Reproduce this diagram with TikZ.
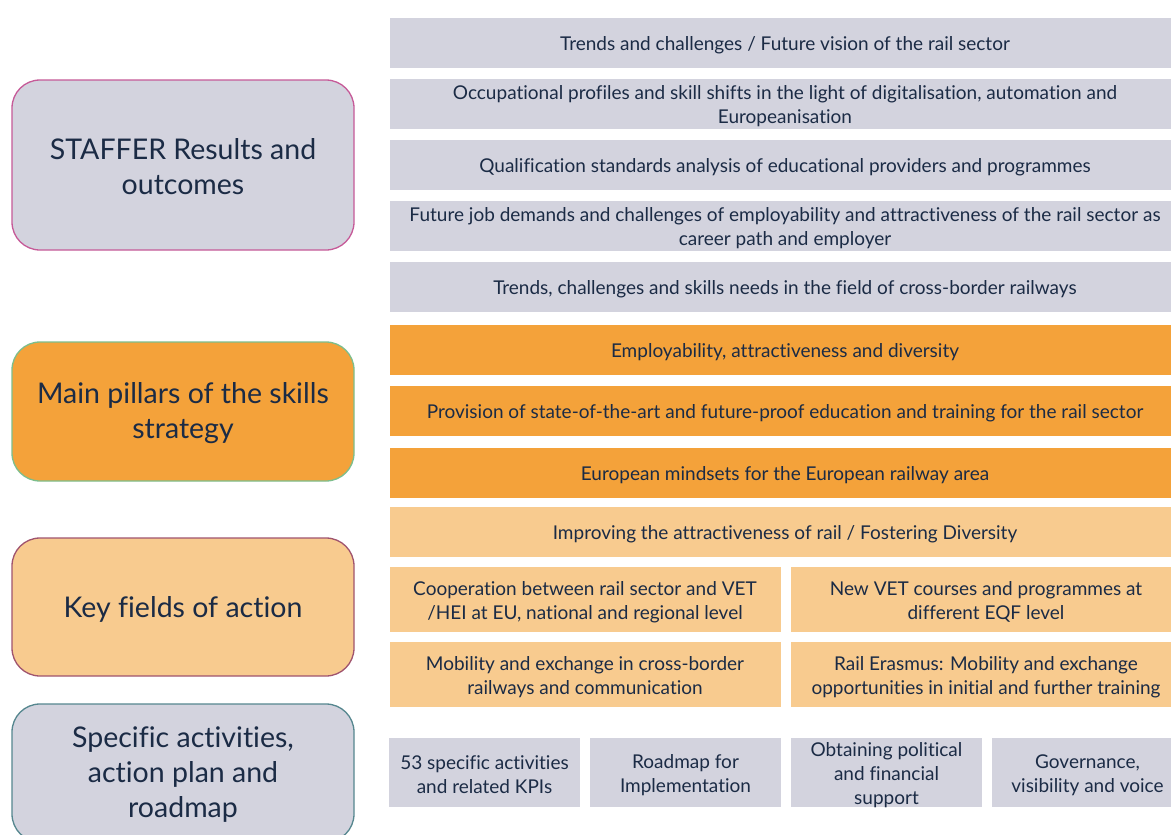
\documentclass[tikz,border=0pt]{standalone}
\usepackage{fontspec}
\setmainfont{Lato}[Ligatures=NoCommon]
\definecolor{ink}{HTML}{1B2B45}
\definecolor{slate}{HTML}{D3D3DE}
\definecolor{amber}{HTML}{F4A23A}
\definecolor{peach}{HTML}{F8CB8F}
\definecolor{rimpink}{HTML}{C65A98}
\definecolor{rimgreen}{HTML}{7DBE8C}
\definecolor{rimmauve}{HTML}{A0546E}
\definecolor{rimteal}{HTML}{56878F}
\newcommand{\rowfont}{\fontsize{19}{24}\selectfont}
\newcommand{\headfont}{\fontsize{28.5}{35}\selectfont}
% a filled cell (#1 name, #2 style, #3 fill, #4 x, #5 y) and its centred caption #6
\newcommand{\cellat}[6]{%
  \node[#2, fill=#3] (#1) at (#4,#5) {};
  \node[celltext] (#1-txt) at ([yshift=-2.5pt]#1.center) {#6};}
% a rounded heading box (#1 name, #2 fill, #3 border, #4 y, #5 height) with caption #6
\newcommand{\headat}[6]{%
  \node[head, fill=#2, draw=#3, minimum height=#5pt] (#1) at (183,#4) {};
  \node[headtext] (#1-txt) at ([yshift=-2pt]#1.center) {#6};}
\begin{document}
\begin{tikzpicture}[x=1pt,y=-1pt,
  head/.style={rectangle, rounded corners=28pt, line width=1.3pt, inner sep=0pt,
    minimum width=342pt},
  headtext/.style={inner sep=0pt, align=center, font=\headfont, text=ink},
  cell/.style={rectangle, inner sep=0pt},
  celltext/.style={inner sep=0pt, align=center, font=\rowfont, text=ink},
  wide/.style={cell, minimum width=790pt, minimum height=50pt},
  half/.style={cell, minimum width=391pt, minimum height=65pt},
  quarter/.style={cell, minimum width=191pt, minimum height=69pt}]
\useasboundingbox (0,0) rectangle (1171,835);
\fill[white] (0,0) rectangle (1171,835);
\clip (0,0) rectangle (1171,835);

% left-hand headings
\headat{h1}{slate}{rimpink}{165}{170}{STAFFER Results and\\outcomes}
\headat{h2}{amber}{rimgreen}{411.5}{139}{Main pillars of the skills\\strategy}
\headat{h3}{peach}{rimmauve}{607}{138}{Key fields of action}
\headat{h4}{slate}{rimteal}{773}{138}{Specific activities,\\action plan and\\roadmap}

% results and outcomes
\cellat{r1}{wide}{slate}{785}{43}{Trends and challenges / Future vision of the rail sector}
\cellat{r2}{wide}{slate}{785}{104}{Occupational profiles and skill shifts in the light of digitalisation, automation and\\Europeanisation}
\cellat{r3}{wide}{slate}{785}{165}{Qualification standards analysis of educational providers and programmes}
\cellat{r4}{wide}{slate}{785}{226}{Future job demands and challenges of employability and attractiveness of the rail sector as\\career path and employer}
\cellat{r5}{wide}{slate}{785}{287}{Trends, challenges and skills needs in the field of cross-border railways}

% pillars
\cellat{p1}{wide}{amber}{785}{350}{Employability, attractiveness and diversity}
\cellat{p2}{wide}{amber}{785}{411}{Provision of state-of-the-art and future-proof education and training for the rail sector}
\cellat{p3}{wide}{amber}{785}{473}{European mindsets for the European railway area}

% fields of action
\cellat{f1}{wide}{peach}{785}{532}{Improving the attractiveness of rail / Fostering Diversity}
\cellat{f2}{half}{peach}{585}{599.5}{Cooperation between rail sector and VET\\/HEI at EU, national and regional level}
\cellat{f3}{half}{peach}{986}{599.5}{New VET courses and programmes at\\different EQF level}
\cellat{f4}{half}{peach}{585}{674.5}{Mobility and exchange in cross-border\\railways and communication}
\cellat{f5}{half}{peach}{986}{674.5}{Rail Erasmus: Mobility and exchange\\opportunities in initial and further training}

% activities
\cellat{a1}{quarter}{slate}{484.5}{772.5}{53 specific activities\\and related KPIs}
\cellat{a2}{quarter}{slate}{685.5}{772.5}{Roadmap for\\Implementation}
\cellat{a3}{quarter}{slate}{886.5}{772.5}{Obtaining political\\and financial\\support}
\cellat{a4}{quarter}{slate}{1087.5}{772.5}{Governance,\\visibility and voice}
\end{tikzpicture}
\end{document}
